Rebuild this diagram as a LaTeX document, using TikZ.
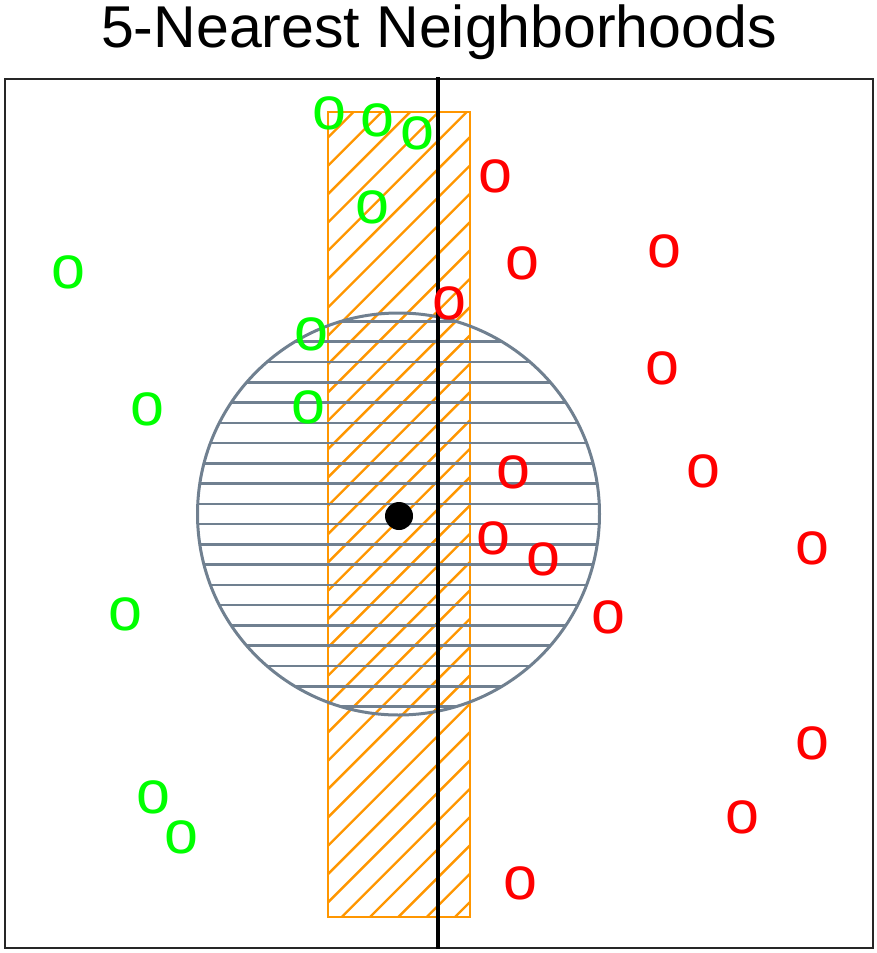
\documentclass[tikz,border=0pt]{standalone}
\usepackage{fontspec}
\setmainfont{Liberation Sans}
\definecolor{slab orange}{RGB}{255,150,0}
\definecolor{ball gray}{RGB}{112,128,144}
\definecolor{class green}{RGB}{0,255,0}
\definecolor{class red}{RGB}{255,0,0}
\begin{document}
\begin{tikzpicture}[
  x=1pt,
  y=-1pt,
  point/.style={inner sep=0pt,font=\fontsize{61}{61}\selectfont},
  green point/.style={point,text=class green},
  red point/.style={point,text=class red},
  slab line/.style={slab orange,line width=2.4pt},
  ball line/.style={ball gray,line width=2.6pt},
]
\useasboundingbox (0,0) rectangle (877,953);
\node[anchor=base,inner sep=0pt,font=\fontsize{59}{60}\selectfont] (title) at (439,47) {5-Nearest Neighborhoods};
\draw[line width=1.5pt,black!85] (5,79) rectangle (873,948);
\begin{scope}
  \clip (328,112) rectangle (470,917);
  \foreach \k in {-30,...,5}
    \draw[slab line] ({341.7+28.33*\k},917) -- ++(900,-900);
\end{scope}
\draw[slab line] (328,112) rectangle (470,917);
\begin{scope}
  \clip (398.5,514) circle[radius=201];
  \foreach \n in {0,...,9} {
    \draw[ball line] (190,{514-(\n+0.5)*20.26}) -- (610,{514-(\n+0.5)*20.26});
    \draw[ball line] (190,{514+(\n+0.5)*20.26}) -- (610,{514+(\n+0.5)*20.26});
  }
\end{scope}
\draw[ball line,line width=3pt] (398.5,514) circle[radius=201];
\draw[line width=4pt] (438.3,77) -- (438.3,949);
\foreach \x/\y [count=\i] in {329/113,377/120,417/133,372/207,68/272,311/334,147/409,308/407,125/614,153/797,181/837}
  \node[green point] (g\i) at (\x,\y) {o};
\foreach \x/\y [count=\i] in {495/176,522/263,664/251,449/303,662/368,513/472,703/471,493/538,543/559,812/548,608/617,812/743,742/817,520/883}
  \node[red point] (r\i) at (\x,\y) {o};
\node[circle,fill,inner sep=0pt,minimum size=28pt] (query) at (399,516) {};
\end{tikzpicture}
\end{document}
